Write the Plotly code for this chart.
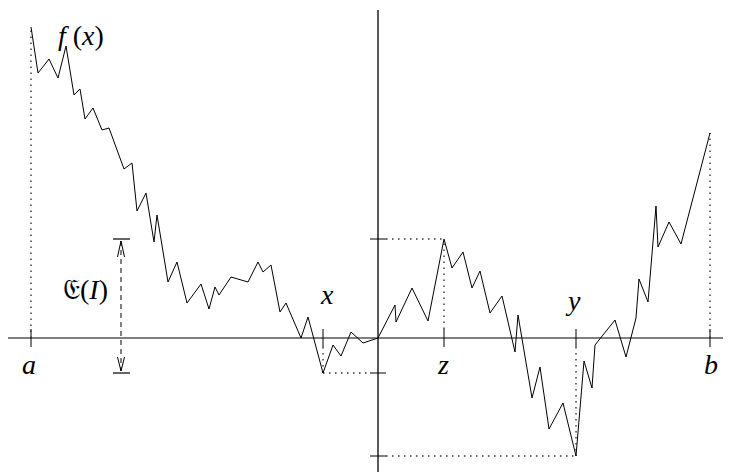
import plotly.graph_objects as go

# Path of f on [a, b]; origin of the axes at (0, 0)
path_x = [-347, -340, -329, -320, -312, -304, -298, -293, -285, -276, -269, -254, -246,
          -241, -232, -224, -221, -210, -201, -191, -177, -169, -163, -159, -147, -130,
          -120, -115, -107, -98, -92, -77, -70, -55, -45, -37, -27, -15, 0,
          17, 18, 34, 50, 66, 74, 85, 94, 102, 112, 124, 137, 140, 154, 162, 171, 185,
          198, 206, 214, 217, 237, 248, 258, 261, 270, 278, 280, 291, 303, 332]
path_y = [311, 265, 279, 260, 292, 243, 249, 219, 230, 208, 210, 169, 175,
          127, 145, 96, 123, 56, 76, 35, 54, 29, 51, 43, 61, 56,
          76, 66, 73, 26, 35, 0, 21, -35, -7, -18, 6, -5, 0,
          33, 16, 50, 17, 99, 70, 86, 50, 67, 25, 42, -14, 23, -60, -29, -91, -65,
          -118, -23, -50, -7, 18, -19, 20, 59, 36, 132, 91, 116, 94, 205]

# special points: a, x, z, y, b
pt_names = ['a', 'x', 'z', 'y', 'b']
pt_x = [-347, -55, 66, 198, 332]
pt_f = [311, -35, 99, -118, 205]
label_x = [-349, -51, 65, 195, 333]
label_y = [-26, 44, -26, 38, -26]

# the page body has an 8px margin, so the figure is 8px smaller
x_range = [-370, 353]
y_range = [-134, 330]

fig = go.Figure()

def seg(xs, ys, color='black', width=1, dash='solid'):
    fig.add_trace(go.Scatter(x=xs, y=ys, mode='lines', hoverinfo='skip', showlegend=False,
                             line=dict(color=color, width=width, dash=dash)))

# axes
seg([-370, x_range[1]], [0, 0], color='#555555', width=1.6)
seg([0, 0], [y_range[0], 328], color='black', width=1.3)

# ticks on horizontal axis
for px in pt_x:
    seg([px, px], [9, -9], width=1)

# dotted guides
dot = dict(color='#333', dash='1.5px,4.5px', width=1.4)
seg([pt_x[0], pt_x[0]], [0, pt_f[0]], **dot)
seg([pt_x[4], pt_x[4]], [0, pt_f[4]], **dot)
seg([pt_x[1], pt_x[1]], [-9, pt_f[1]], **dot)
seg([pt_x[1], -8], [pt_f[1], pt_f[1]], **dot)
seg([pt_x[2], pt_x[2]], [9, pt_f[2]], **dot)
seg([8, pt_x[2]], [pt_f[2], pt_f[2]], **dot)
seg([pt_x[3], pt_x[3]], [-9, pt_f[3]], **dot)
seg([8, pt_x[3]], [pt_f[3], pt_f[3]], **dot)

# ticks on vertical axis
for v in [pt_f[2], pt_f[1], pt_f[3]]:
    seg([-8, 8], [v, v], width=1)

# E(I) double arrow
ex = -257
top, bot = pt_f[2], pt_f[1]
seg([ex - 8, ex + 9], [top, top], width=1.2)
seg([ex - 8, ex + 9], [bot, bot], width=1.2)
seg([ex, ex], [top - 2, bot + 2], dash='5px,4px', width=1)
seg([ex - 3.5, ex, ex + 3.5], [top - 18, top - 2, top - 18], width=1)
seg([ex - 3.5, ex, ex + 3.5], [bot + 16, bot + 2, bot + 16], width=1)

# the function
seg(path_x, path_y, width=1)

font = dict(family='Liberation Serif, DejaVu Serif, serif', size=28, color='black')
for name, lx, ly in zip(pt_names, label_x, label_y):
    fig.add_annotation(x=lx, y=ly, text=f'<i>{name}</i>', showarrow=False, font=font)
fig.add_annotation(x=-297, y=303, text='<i>f</i> (<i>x</i>)', showarrow=False, font=font)
fig.add_annotation(x=-293, y=49, text='𝔈(<i>I</i>)', showarrow=False, font=font)

fig.update_layout(
    width=723, height=464, margin=dict(l=0, r=0, t=0, b=0),
    paper_bgcolor='white', plot_bgcolor='white', showlegend=False,
    xaxis=dict(range=x_range, visible=False, fixedrange=True),
    yaxis=dict(range=y_range, visible=False, fixedrange=True),
)

fig.write_html("out.html")
